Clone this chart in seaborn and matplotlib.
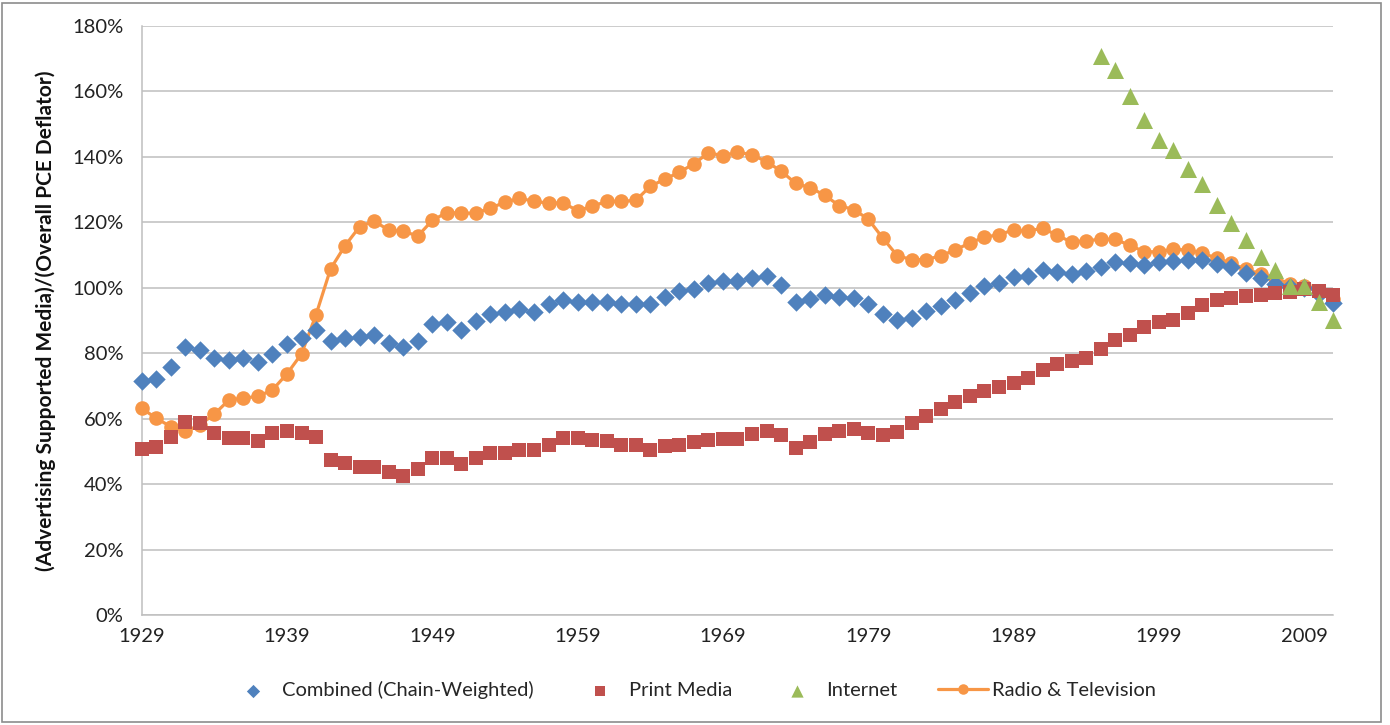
import numpy as np
import pandas as pd
import matplotlib
matplotlib.use("Agg")
import matplotlib.pyplot as plt
from matplotlib.ticker import FuncFormatter, MultipleLocator
from matplotlib.patches import Rectangle
import seaborn as sns

# ---------------- data (percent) ----------------
years = list(range(1929, 2012))

combined = [71.5, 72.0, 75.9, 81.9, 81.0, 78.5, 78.0, 78.5, 77.3, 79.8,
            82.9, 84.6, 87.2, 83.6, 84.8, 85.0, 85.6, 83.1, 81.9, 83.6,
            88.9, 89.6, 87.2, 89.8, 92.1, 92.5, 93.6, 92.5, 94.9, 96.4,
            95.6, 95.6, 95.6, 94.9, 94.9, 94.9, 97.2, 99.0, 99.7, 101.5,
            102.0, 102.0, 103.0, 103.6, 101.0, 95.8, 96.7, 97.8, 97.2, 97.0,
            95.0, 92.0, 90.1, 90.9, 92.8, 94.4, 96.2, 98.3, 100.4, 101.6,
            103.2, 103.6, 105.3, 104.8, 104.2, 105.0, 106.2, 107.8, 107.6, 107.0,
            107.8, 108.1, 108.6, 108.6, 107.2, 106.4, 104.6, 103.1, 101.2, 100.2,
            100.0, 98.0, 95.5]

print_media = [50.7, 51.2, 54.3, 59.1, 58.6, 55.6, 54.0, 54.0, 53.3, 55.6,
               56.3, 55.6, 54.5, 47.4, 46.6, 45.2, 45.2, 43.8, 42.5, 44.6,
               48.0, 48.0, 46.2, 48.1, 49.5, 49.5, 50.4, 50.3, 52.1, 54.2,
               54.2, 53.6, 53.2, 52.1, 51.8, 50.5, 51.5, 52.1, 52.8, 53.4,
               53.9, 53.9, 55.3, 56.1, 55.0, 51.0, 53.0, 55.4, 56.1, 56.8,
               55.6, 55.1, 55.8, 58.7, 60.9, 63.0, 65.0, 67.0, 68.4, 69.7,
               70.9, 72.5, 75.0, 76.6, 77.6, 78.6, 81.2, 84.0, 85.6, 88.0,
               89.4, 90.2, 92.3, 94.8, 96.3, 97.0, 97.6, 97.8, 98.5, 98.8,
               99.5, 99.0, 97.8]

internet_years = list(range(1995, 2012))
internet = [170.7, 166.5, 158.5, 151.4, 145.3, 142.0, 136.4, 131.7, 125.4,
            119.8, 114.5, 109.5, 105.4, 100.5, 100.4, 95.7, 90.1]

radio_tv = [63.2, 60.1, 57.6, 56.1, 58.1, 61.4, 65.7, 66.3, 66.8, 68.8,
            73.7, 79.8, 91.8, 105.8, 112.9, 118.7, 120.4, 117.6, 117.3, 115.8,
            120.6, 123.0, 122.8, 122.8, 124.4, 126.1, 127.4, 126.4, 125.9, 125.9,
            123.6, 124.9, 126.4, 126.4, 126.7, 131.0, 133.2, 135.3, 137.9, 141.2,
            140.4, 141.4, 140.7, 138.5, 135.7, 131.9, 130.6, 128.3, 125.1, 123.9,
            121.0, 115.2, 109.8, 108.6, 108.6, 109.8, 111.6, 113.7, 115.5, 116.2,
            117.7, 117.2, 118.3, 116.0, 114.0, 114.4, 114.8, 114.8, 113.0, 111.0,
            111.0, 111.8, 111.5, 110.6, 109.0, 107.5, 105.6, 104.3, 103.0, 101.3,
            100.5, 98.8, 96.5]

labels = ["Combined (Chain-Weighted)", "Print Media", "Internet", "Radio & Television"]
x_ticks = list(range(1929, 2012, 10))

C_BLUE = "#4F81BD"
C_RED = "#C0504D"
C_GREEN = "#9BBB59"
C_ORANGE = "#F79646"
GRID = "#BFBFBF"

# ---------------- style ----------------
sns.set_style("white")
plt.rcParams["font.family"] = ["Lato", "DejaVu Sans"]

fig = plt.figure(figsize=(13.9, 7.25), dpi=100)
ax = fig.add_axes([141.7 / 1390, 1 - 615 / 725, (1333.2 - 141.7) / 1390, (615 - 26) / 725])

sns.scatterplot(x=years, y=combined, marker="D", s=88, color=C_BLUE,
                linewidth=0, label=labels[0], ax=ax, zorder=4, clip_on=False)
sns.scatterplot(x=years, y=print_media, marker="s", s=112, color=C_RED,
                linewidth=0, label=labels[1], ax=ax, zorder=5, clip_on=False)
sns.scatterplot(x=internet_years, y=internet, marker="^", s=150, color=C_GREEN,
                linewidth=0, label=labels[2], ax=ax, zorder=6, clip_on=False)
sns.lineplot(x=years, y=radio_tv, marker="o", markersize=10.5, color=C_ORANGE,
             linewidth=2.3, markeredgewidth=0, label=labels[3], ax=ax, zorder=3,
             clip_on=False)

if ax.get_legend() is not None:
    ax.get_legend().remove()

ax.set_xlim(1929, 2011)
ax.set_ylim(0, 180)
ax.yaxis.set_major_locator(MultipleLocator(20))
ax.yaxis.set_major_formatter(FuncFormatter(lambda v, p: f"{v:.0f}%"))
ax.set_xticks(x_ticks)
ax.set_xticklabels([str(t) for t in x_ticks])

ax.grid(axis="y", color=GRID, linewidth=1.1, zorder=0)
ax.grid(axis="x", visible=False)
ax.set_axisbelow(True)
for s in ["top", "right"]:
    ax.spines[s].set_visible(False)
for s in ["left", "bottom"]:
    ax.spines[s].set_color(GRID)
    ax.spines[s].set_linewidth(1.1)

ax.tick_params(axis="both", which="major", direction="out", length=5,
               width=1.0, color=GRID, labelsize=14.5, labelcolor="#222222")
ax.tick_params(axis="y", pad=8)
ax.tick_params(axis="x", pad=4)

ax.set_xlabel("")
ax.set_ylabel("(Advertising Supported Media)/(Overall PCE Deflator)",
              fontsize=15, fontweight="bold", color="#111111")
ax.yaxis.set_label_coords(-0.072, 0.5)

handles, labs = ax.get_legend_handles_labels()
fig.legend(handles, labs, loc="center", bbox_to_anchor=(0.498, 0.048), ncol=4,
           frameon=False, fontsize=14.5, markerscale=0.72, handlelength=2.5,
           handletextpad=0.2, columnspacing=2.0)

# outer chart border
fig.patches.append(Rectangle((2 / 1390, 3 / 725), 1379 / 1390, 719 / 725,
                             transform=fig.transFigure, fill=False,
                             edgecolor="#8C8C8C", linewidth=1.2))

fig.savefig("out.png", dpi=100)
